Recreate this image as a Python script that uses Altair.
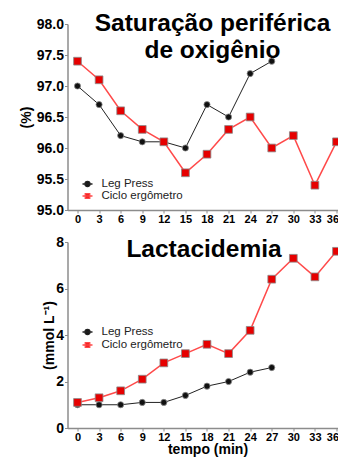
import altair as alt
import pandas as pd

times = [0, 3, 6, 9, 12, 15, 18, 21, 24, 27, 30, 33, 36]
series_names = ["Leg Press", "Ciclo ergômetro"]
spo2_leg = [97.0, 96.7, 96.2, 96.1, 96.1, 96.0, 96.7, 96.5, 97.2, 97.4]
spo2_ciclo = [97.4, 97.1, 96.6, 96.3, 96.1, 95.6, 95.9, 96.3, 96.5, 96.0, 96.2, 95.4, 96.1]
lac_leg = [1.0, 1.0, 1.0, 1.1, 1.1, 1.4, 1.8, 2.0, 2.4, 2.6]
lac_ciclo = [1.1, 1.3, 1.6, 2.1, 2.8, 3.2, 3.6, 3.2, 4.2, 6.4, 7.3, 6.5, 7.6]
spo2_ticks = [95.0, 95.5, 96.0, 96.5, 97.0, 97.5, 98.0]
lac_ticks = [0, 2, 4, 6, 8]
title_top = ["Saturação periférica", "de oxigênio"]
title_bottom = ["Lactacidemia"]
y_title_top = "(%)"
y_title_bottom = "(mmol L⁻¹)"
x_title = "tempo (min)"

FONT = "Liberation Sans"
LINE_COLORS = ["#222222", "#ff4a4a"]
LINE_WIDTHS = [1.0, 1.5]
FILL_COLORS = ["#111111", "#e60000"]
SHAPES = ["circle", "square"]
SIZES = [38, 60]

CIRCLE = "M-1,0L1,0M0.5,0A0.5,0.5,0,1,1,-0.5,0A0.5,0.5,0,1,1,0.5,0Z"
SQUARE = "M-1,0L1,0M-0.45,-0.45L0.45,-0.45L0.45,0.45L-0.45,0.45Z"


def make_df(leg, ciclo):
    rows = []
    for t, v in zip(times, leg):
        rows.append({"t": t, "v": v, "s": series_names[0]})
    for t, v in zip(times, ciclo):
        rows.append({"t": t, "v": v, "s": series_names[1]})
    return pd.DataFrame(rows)


def panel(df, ydomain, yticks, yfmt, ytitle, ytitle_pad, show_xtitle, lines, tx, ty, legend_y, row_pad):
    x = alt.X(
        "t:Q",
        scale=alt.Scale(domain=[-1.39, 37.53], nice=False, zero=False),
        axis=alt.Axis(
            values=times,
            title=x_title if show_xtitle else None,
            labelFontSize=11,
            labelPadding=0,
            labelOffset={"condition": {"test": "datum.value == 36", "value": -4}, "value": 0},
            titleFontSize=14,
            titlePadding=0,
        ),
    )
    y = alt.Y(
        "v:Q",
        scale=alt.Scale(domain=ydomain, nice=False, zero=False),
        axis=alt.Axis(
            values=yticks,
            format=yfmt,
            title=ytitle,
            labelFontSize=14,
            labelPadding=1,
            titleFontSize=14,
            titlePadding=ytitle_pad,
        ),
    )
    base = alt.Chart(df)
    layers = []
    for i, name in enumerate(series_names):
        sub = base.transform_filter(alt.datum.s == name)
        layers.append(
            sub.mark_line(color=LINE_COLORS[i], strokeWidth=LINE_WIDTHS[i]).encode(x=x, y=y)
        )
    for i, name in enumerate(series_names):
        sub = base.transform_filter(alt.datum.s == name)
        layers.append(
            sub.mark_point(
                shape=SHAPES[i], filled=True, fill=FILL_COLORS[i], opacity=1,
                stroke="#8a8a8a", strokeWidth=0.8, size=SIZES[i],
            ).encode(x=x, y=y)
        )
    legend = alt.Legend(
        title=None,
        orient="none",
        legendX=14,
        legendY=legend_y,
        padding=0,
        symbolSize=100,
        symbolStrokeWidth=1.3,
        symbolOpacity=1,
        labelFont=FONT,
        labelFontSize=11.5,
        labelColor="#222222",
        labelOffset=8,
        rowPadding=row_pad,
    )
    layers.append(
        base.mark_point(filled=True, opacity=0).encode(
            x=x,
            y=y,
            color=alt.Color("s:N", scale=alt.Scale(domain=series_names, range=FILL_COLORS), legend=legend),
            stroke=alt.Stroke("s:N", scale=alt.Scale(domain=series_names, range=LINE_COLORS), legend=legend),
            shape=alt.Shape("s:N", scale=alt.Scale(domain=series_names, range=[CIRCLE, SQUARE]), legend=legend),
        )
    )
    for i, txt in enumerate(lines):
        tdf = pd.DataFrame({"txt": [txt]})
        layers.append(
            alt.Chart(tdf)
            .mark_text(font=FONT, fontSize=24.5, fontWeight="bold", align="center",
                       baseline="alphabetic", color="black")
            .encode(x=alt.value(tx), y=alt.value(ty + i * 27.6), text="txt:N")
        )
    return alt.layer(*layers).properties(width=280, height=186)


top = panel(make_df(spo2_leg, spo2_ciclo), [95, 98], spo2_ticks, ".1f", y_title_top, 3,
            False, title_top, 145, 6.7, 154, -1)
bottom = panel(make_df(lac_leg, lac_ciclo), [0, 8], lac_ticks, "d", y_title_bottom, -1,
               True, title_bottom, 136.5, 15.3, 84, 1)

chart = (
    alt.vconcat(top, bottom, spacing=11)
    .resolve_scale(color="independent", stroke="independent", shape="independent")
    .resolve_legend(color="independent", stroke="independent", shape="independent")
    .properties(padding={"top": 2, "left": 10.5, "right": -9.5, "bottom": 3})
    .configure_view(stroke=None)
    .configure_axis(
        grid=False,
        domainColor="#8c8c8c",
        domainWidth=1.5,
        tickColor="#8c8c8c",
        tickSize=3,
        labelFont=FONT,
        labelFontWeight="bold",
        labelColor="black",
        titleFont=FONT,
        titleFontWeight="bold",
        titleColor="black",
    )
)

chart.save("out.html", embed_options={"renderer": "svg", "actions": False})
